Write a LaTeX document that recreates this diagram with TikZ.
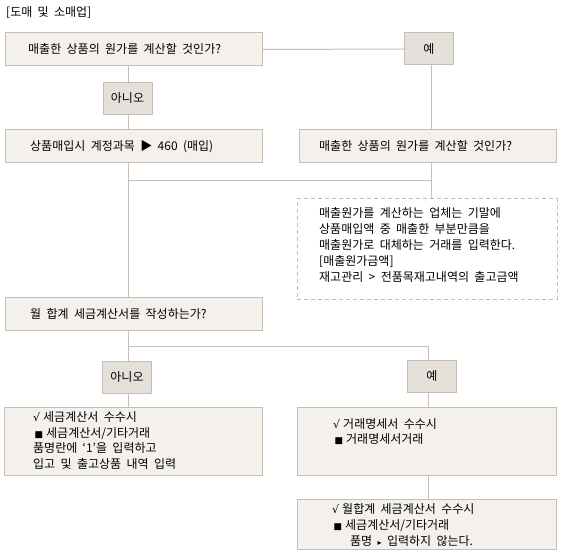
\documentclass[tikz,border=0pt]{standalone}
\usepackage{fontspec}
\setmainfont[WordSpace=2]{Noto Sans CJK KR}
\newfontfamily\symf{DejaVu Sans}
\newcommand{\chk}{{\symf\fontsize{11}{12}\selectfont √}\hspace{3pt}}
\newcommand{\sqb}{\hspace{1.5pt}{\symf\fontsize{9}{10}\selectfont ■}\hspace{3pt}}
\definecolor{bg}{HTML}{F4F1EC}
\definecolor{bgdark}{HTML}{E6E0DA}
\definecolor{bd}{HTML}{C6BEB6}
\definecolor{ln}{HTML}{C8C0B8}
\begin{document}
\begin{tikzpicture}[x=1pt,y=-1pt,
  box/.style={draw=bd, fill=bg, line width=1pt, inner sep=0pt},
  ansbox/.style={draw=bd, fill=bgdark, line width=1pt, inner sep=0pt, minimum width=49pt, minimum height=32pt, font=\fontsize{12}{14}\selectfont},
  notebox/.style={draw=bd, line width=1pt, dash pattern=on 4pt off 3pt, inner sep=0pt},
  txt/.style={anchor=base west, inner sep=0pt, font=\fontsize{12}{14}\selectfont},
  conn/.style={draw=ln, line width=1pt}]
\useasboundingbox (0,0) rectangle (570,556);
\fill[white] (0,0) rectangle (570,556);

\node[txt] (title) at (6,17) {[도매 및 소매업]};

% boxes
\node[box, minimum width=257pt, minimum height=33pt] (q1) at (133.5,49.5) {};
\node[ansbox] (yes1) at (429,49) {예};
\node[ansbox] (no1) at (127.5,98.5) {아니오};
\node[box, minimum width=257pt, minimum height=33pt] (a1) at (133.5,146.5) {};
\node[box, minimum width=257pt, minimum height=33pt] (q2) at (427.5,146.5) {};
\node[notebox, minimum width=260pt, minimum height=100pt] (note) at (427,249) {};
\node[box, minimum width=257pt, minimum height=33pt] (q3) at (133.5,313.5) {};
\node[ansbox] (no2) at (127,377.5) {아니오};
\node[ansbox] (yes2) at (432,376.5) {예};
\node[box, minimum width=258pt, minimum height=68pt] (b5) at (133,441) {};
\node[box, minimum width=259pt, minimum height=68pt] (b6) at (426.5,441) {};
\node[box, minimum width=259pt, minimum height=50pt] (b7) at (426.5,524) {};

% texts
\node[txt] (tq1) at (28,54) {매출한 상품의 원가를 계산할 것인가?};
\node[txt] (ta1) at (30,151) {상품매입시 계정과목 ▶ 460 (매입)};
\node[txt] (tq2) at (319,151) {매출한 상품의 원가를 계산할 것인가?};
\node[txt] (tn1) at (319,217.5) {매출원가를 계산하는 업체는 기말에};
\node[txt] (tn2) at (319,233.5) {상품매입액 중 매출한 부분만큼을};
\node[txt] (tn3) at (319,249.5) {매출원가로 대체하는 거래를 입력한다.};
\node[txt] (tn4) at (319,265.5) {[매출원가금액]};
\node[txt] (tn5) at (319,281.5) {재고관리 > 전품목재고내역의 출고금액};
\node[txt] (tq3) at (30,318) {월 합계 세금계산서를 작성하는가?};
\node[txt] (t51) at (33,421.5) {\chk 세금계산서 수수시};
\node[txt] (t52) at (33,437) {\sqb 세금계산서/기타거래};
\node[txt] (t53) at (33,452.5) {품명란에 ‘1’을 입력하고};
\node[txt] (t54) at (33,468.5) {입고 및 출고상품 내역 입력};
\node[txt] (t61) at (333,428.5) {\chk 거래명세서 수수시};
\node[txt] (t62) at (333,443.5) {\sqb 거래명세서거래};
\node[txt] (t71) at (332,513.5) {\chk 월합계 세금계산서 수수시};
\node[txt] (t72) at (332,529.5) {\sqb 세금계산서/기타거래};
\node[txt] (t73) at (350,545.5) {품명 {\symf\fontsize{8}{10}\selectfont ▸} 입력하지 않는다.};

% connector coordinates
\coordinate (cl) at (128,0);
\coordinate (cr) at (431,0);
\coordinate (cr2) at (428,0);
\coordinate (m1) at (128,181);
\coordinate (m2) at (431,181);
\coordinate (s1) at (128,346.5);
\coordinate (s2) at (428,346.5);

% connectors
\path[conn] (q1.east) -- (yes1.west);
\path[conn] (q1.south -| cl) -- (no1.north -| cl);
\path[conn] (no1.south -| cl) -- (a1.north -| cl);
\path[conn] (yes1.south -| cr) -- (q2.north -| cr);
\path[conn] (a1.south -| cl) -- (q3.north -| cl);
\path[conn] (m1) -- (m2);
\path[conn] (q2.south -| cr) -- (note.north -| cr);
\path[conn] (q3.south -| cl) -- (no2.north -| cl);
\path[conn] (s1) -- (s2) -- (yes2.north -| cr2);
\path[conn] (no2.south -| cl) -- (b5.north -| cl);
\path[conn] (yes2.south -| cr2) -- (b6.north -| cr2);
\path[conn] (b6.south -| cr2) -- (b7.north -| cr2);
\end{tikzpicture}
\end{document}
